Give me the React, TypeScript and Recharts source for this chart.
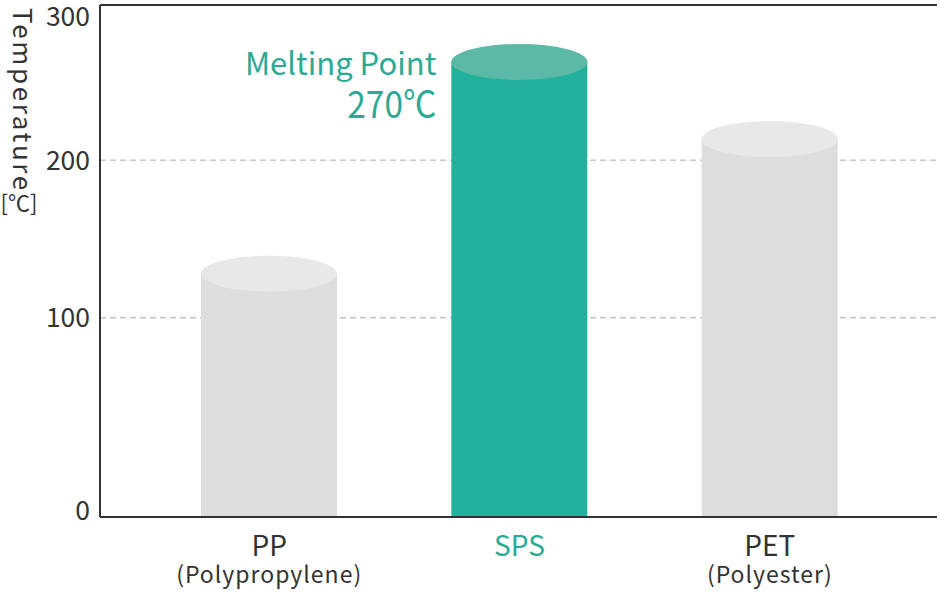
import React from "react";
import { Bar, BarChart, CartesianGrid, Cell, LabelList, ReferenceLine, XAxis, YAxis } from "recharts";

const categories = ["PP", "SPS", "PET"];
const subtitles = ["(Polypropylene)", "", "(Polyester)"];
const meltingPoints = [128, 270, 215];
const yTicks = [0, 100, 200, 300];
const gridValues = [100, 200];

// the printed axis is not linear: every step of 100 gets a bit shorter going up
const axisStops = [0, 100, 200, 300, 310];
const axisStopShare = [0, 0.389, 0.697, 0.971, 1];
const AXIS_TOP = axisStops[axisStops.length - 1];

const FONT = '"Noto Sans CJK JP", "Noto Sans", sans-serif';
const TEAL = "#22b19d";
const TEAL_TOP = "#5bb9a5";
const TEAL_TEXT = "#2aaa95";
const GRAY = "#dcdddc";
const GRAY_TOP = "#e8e8e8";
const INK = "#333";

const bodyColors = [GRAY, TEAL, GRAY];
const topColors = [GRAY_TOP, TEAL_TOP, GRAY_TOP];

const rows = categories.map((name, i) => ({ name, sub: subtitles[i], value: meltingPoints[i] }));

function steppedScale(startDomain = [0, AXIS_TOP], startRange = [1, 0]) {
  let dom = startDomain.slice();
  let rng = startRange.slice();
  const share = (v: number) => {
    let i = 1;
    while (i < axisStops.length - 1 && v > axisStops[i]) i++;
    const t = (v - axisStops[i - 1]) / (axisStops[i] - axisStops[i - 1]);
    return axisStopShare[i - 1] + t * (axisStopShare[i] - axisStopShare[i - 1]);
  };
  const f: any = (v: number) => rng[0] + (rng[1] - rng[0]) * share(v);
  f.domain = (d?: number[]) => {
    if (d === undefined) return dom.slice();
    dom = d.slice();
    return f;
  };
  f.range = (r?: number[]) => {
    if (r === undefined) return rng.slice();
    rng = r.slice();
    return f;
  };
  f.copy = () => steppedScale(dom, rng);
  f.ticks = () => yTicks;
  f.tickFormat = () => (v: number) => String(v);
  f.nice = () => f;
  f.clamp = () => f;
  f.invert = (px: number) => {
    const s = (px - rng[0]) / (rng[1] - rng[0]);
    let i = 1;
    while (i < axisStopShare.length - 1 && s > axisStopShare[i]) i++;
    const t = (s - axisStopShare[i - 1]) / (axisStopShare[i] - axisStopShare[i - 1]);
    return axisStops[i - 1] + t * (axisStops[i] - axisStops[i - 1]);
  };
  return f;
}

function Cylinder(props: any) {
  const { x, y, width, height, fill, index } = props;
  if (width == null || height == null) return null;
  return (
    <g>
      <rect x={x} y={y} width={width} height={height} fill={fill} />
      <ellipse cx={x + width / 2} cy={y} rx={width / 2} ry={18} fill={topColors[index]} />
    </g>
  );
}

function Callout(props: any) {
  const { x, y, index, value } = props;
  if (index !== 1) return null;
  return (
    <g fontFamily={FONT} fill={TEAL_TEXT} textAnchor="end">
      <text x={x - 15} y={y + 13} fontSize={31}>
        Melting Point
      </text>
      <text x={x - 15} y={y + 56} fontSize={37} textLength={89} lengthAdjust="spacingAndGlyphs">
        {value}℃
      </text>
    </g>
  );
}

function CategoryTick(props: any) {
  const { x, y, payload, index } = props;
  const color = index === 1 ? TEAL_TEXT : INK;
  return (
    <g fontFamily={FONT} fill={color} textAnchor="middle">
      <text x={x} y={y + 39} fontSize={28}>
        {payload.value}
      </text>
      {subtitles[index] ? (
        <text x={x} y={y + 66} fontSize={23} letterSpacing={1}>
          {subtitles[index]}
        </text>
      ) : null}
    </g>
  );
}

function ValueTick(props: any) {
  const { x, y, payload } = props;
  // the end labels are nudged inward, as in the print
  const lift = payload.value === 0 ? -7 : payload.value === 300 ? -3 : 0;
  return (
    <text x={x} y={y + 9.5 + lift} fontFamily={FONT} fontSize={26.5} fill={INK} textAnchor="end">
      {payload.value}
    </text>
  );
}

function AxisTitle() {
  return (
    <g fontFamily={FONT} fill={INK}>
      <text x={13} y={8} fontSize={26} letterSpacing={2.6} transform="rotate(90 13 8)">
        Temperature
      </text>
      <text x={19} y={211} fontSize={22} textAnchor="middle">
        [℃]
      </text>
    </g>
  );
}

const frameLine = { stroke: INK, strokeWidth: 2 };

export default function App() {
  return (
    <div style={{ position: "absolute", left: 0, top: 0 }}>
      <BarChart width={939} height={609} data={rows} margin={{ top: 5, right: 2, bottom: 0, left: 0 }}>
        <CartesianGrid
          vertical={false}
          horizontalValues={gridValues}
          stroke="#c6c6c6"
          strokeDasharray="6 4"
          strokeWidth={1.5}
        />
        <XAxis
          dataKey="name"
          height={92}
          padding={{ left: 44, right: 42 }}
          tickLine={false}
          tickSize={0}
          tickMargin={0}
          interval={0}
          axisLine={frameLine}
          tick={<CategoryTick />}
        />
        <YAxis
          type="number"
          width={100}
          domain={[0, AXIS_TOP]}
          scale={steppedScale()}
          ticks={yTicks}
          tickLine={false}
          tickSize={0}
          tickMargin={10}
          axisLine={frameLine}
          tick={<ValueTick />}
          label={<AxisTitle />}
        />
        <YAxis yAxisId="frameRight" orientation="right" width={0} domain={[0, AXIS_TOP]} tick={false} tickLine={false} axisLine={frameLine} />
        <Bar dataKey="value" barSize={136} isAnimationActive={false} shape={<Cylinder />}>
          {rows.map((r, i) => (
            <Cell key={r.name} fill={bodyColors[i]} />
          ))}
          <LabelList dataKey="value" content={<Callout />} />
        </Bar>
        <ReferenceLine y={AXIS_TOP} stroke={INK} strokeWidth={2} ifOverflow="visible" />
      </BarChart>
    </div>
  );
}
